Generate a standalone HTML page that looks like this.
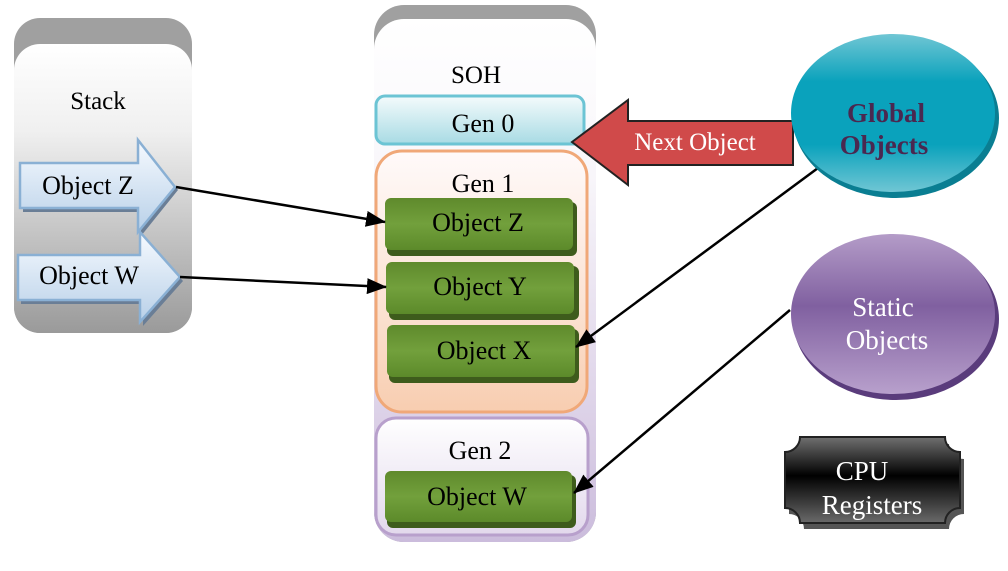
<!DOCTYPE html>
<html><head><meta charset="utf-8"><style>
html,body{margin:0;padding:0;background:#fff;}
svg, svg text{font-family:"Liberation Serif","DejaVu Serif",serif;}
</style></head><body>
<svg width="1008" height="566" viewBox="0 0 1008 566" xmlns="http://www.w3.org/2000/svg" font-family="Liberation Serif, DejaVu Serif, serif">
<defs>
<linearGradient id="stk" x1="0" y1="0" x2="0" y2="1">
<stop offset="0" stop-color="#ffffff"/><stop offset="0.3" stop-color="#f0f0f0"/><stop offset="1" stop-color="#9a9a9a"/></linearGradient>
<linearGradient id="soh" x1="0" y1="0" x2="0" y2="1">
<stop offset="0" stop-color="#ffffff"/><stop offset="0.3" stop-color="#f8f6fa"/><stop offset="0.7" stop-color="#e0d6ea"/><stop offset="1" stop-color="#cbbcdc"/></linearGradient>
<linearGradient id="g0" x1="0" y1="0" x2="0" y2="1"><stop offset="0" stop-color="#f4fbfc"/><stop offset="1" stop-color="#a8dbe4"/></linearGradient>
<linearGradient id="g1" x1="0" y1="0" x2="0" y2="1"><stop offset="0" stop-color="#fffafa"/><stop offset="0.6" stop-color="#fbe2d2"/><stop offset="1" stop-color="#f8cdb0"/></linearGradient>
<linearGradient id="g2" x1="0" y1="0" x2="0" y2="1"><stop offset="0" stop-color="#ffffff"/><stop offset="1" stop-color="#e2d8ec"/></linearGradient>
<linearGradient id="grn" x1="0" y1="0" x2="0" y2="1"><stop offset="0" stop-color="#5f8a2c"/><stop offset="0.5" stop-color="#72a03c"/><stop offset="1" stop-color="#5c8a2a"/></linearGradient>
<linearGradient id="arr" x1="0" y1="0" x2="0" y2="1"><stop offset="0" stop-color="#f6faff"/><stop offset="1" stop-color="#b8d0e8"/></linearGradient>
<linearGradient id="glob" x1="0" y1="0" x2="0" y2="1"><stop offset="0" stop-color="#70c6d4"/><stop offset="0.3" stop-color="#0aa2bc"/><stop offset="0.7" stop-color="#0aa2bc"/><stop offset="1" stop-color="#70c6d4"/></linearGradient>
<linearGradient id="stat" x1="0" y1="0" x2="0" y2="1"><stop offset="0" stop-color="#b49cc8"/><stop offset="0.45" stop-color="#8060a0"/><stop offset="1" stop-color="#b8a0cc"/></linearGradient>
<linearGradient id="cpu" x1="0" y1="0" x2="0" y2="1"><stop offset="0" stop-color="#707070"/><stop offset="0.45" stop-color="#000"/><stop offset="1" stop-color="#6a6a6a"/></linearGradient>
<marker id="ah" markerWidth="20" markerHeight="16" refX="19" refY="8" orient="auto" markerUnits="userSpaceOnUse" viewBox="0 0 20 16">
<path d="M0,0 L20,8 L0,16 z" fill="#000"/></marker>
</defs>

<rect x="14" y="18" width="178" height="315" rx="26" fill="#a0a0a0"/>
<rect x="14" y="44" width="178" height="289" rx="26" fill="url(#stk)"/>
<text x="98" y="109" font-size="25" text-anchor="middle">Stack</text>

<path d="M23,167 L141,167 L141,144 L178,190 L141,236 L141,212 L23,212 z" fill="#6a7e96"/>
<path d="M20,163 L138,163 L138,140 L175,187 L138,232 L138,208 L20,208 z" fill="url(#arr)" stroke="#8ab0d4" stroke-width="2.5"/>
<text x="88" y="194" font-size="26" text-anchor="middle">Object Z</text>
<path d="M21,259 L143,259 L143,236 L183,281 L143,326 L143,304 L21,304 z" fill="#6a7e96"/>
<path d="M18,255 L140,255 L140,232 L180,277 L140,322 L140,300 L18,300 z" fill="url(#arr)" stroke="#8ab0d4" stroke-width="2.5"/>
<text x="89" y="284" font-size="26" text-anchor="middle">Object W</text>

<rect x="374" y="5" width="222" height="537" rx="30" fill="#a0a0a0"/>
<rect x="374" y="19" width="222" height="523" rx="30" fill="url(#soh)"/>
<text x="476" y="83" font-size="25" text-anchor="middle">SOH</text>

<rect x="376" y="96" width="208" height="48" rx="9" fill="url(#g0)" stroke="#6cc4d4" stroke-width="3"/>
<text x="483" y="132" font-size="26" text-anchor="middle">Gen 0</text>

<rect x="376" y="151" width="211" height="261" rx="26" fill="url(#g1)" stroke="#f0a878" stroke-width="3"/>
<text x="483" y="192" font-size="26" text-anchor="middle">Gen 1</text>

<rect x="376" y="418" width="212" height="117" rx="20" fill="url(#g2)" stroke="#b8a0cc" stroke-width="3"/>
<text x="480" y="459" font-size="26" text-anchor="middle">Gen 2</text>

<g>
<rect x="387" y="202" width="190" height="54" rx="6" fill="#3e5c1c"/>
<rect x="385" y="198" width="188" height="52" rx="6" fill="url(#grn)"/>
<text x="478" y="231" font-size="26" text-anchor="middle">Object Z</text>
<rect x="389" y="266" width="190" height="54" rx="6" fill="#3e5c1c"/>
<rect x="386" y="262" width="188" height="52" rx="6" fill="url(#grn)"/>
<text x="480" y="295" font-size="26" text-anchor="middle">Object Y</text>
<rect x="389" y="329" width="190" height="54" rx="6" fill="#3e5c1c"/>
<rect x="387" y="325" width="188" height="52" rx="6" fill="url(#grn)"/>
<text x="484" y="359" font-size="26" text-anchor="middle">Object X</text>
<rect x="387" y="475" width="189" height="53" rx="6" fill="#3e5c1c"/>
<rect x="385" y="471" width="187" height="51" rx="6" fill="url(#grn)"/>
<text x="477" y="505" font-size="26" text-anchor="middle">Object W</text>
</g>

<g stroke="#000" stroke-width="2.5" fill="none">
<line x1="176" y1="187" x2="385" y2="222" marker-end="url(#ah)"/>
<line x1="180" y1="277" x2="386" y2="287" marker-end="url(#ah)"/>
<line x1="818" y1="168" x2="576" y2="347" marker-end="url(#ah)"/>
<line x1="790" y1="310" x2="574" y2="493" marker-end="url(#ah)"/>
</g>

<path d="M572,142 L628,100 L628,121 L793,121 L793,165 L628,165 L628,185 z" fill="#d04a4a" stroke="#222" stroke-width="2"/>
<text x="695" y="150" font-size="25" text-anchor="middle" fill="#fff">Next Object</text>

<ellipse cx="896" cy="118" rx="103" ry="80" fill="#0a7e92"/>
<ellipse cx="893" cy="113" rx="102" ry="79" fill="url(#glob)"/>
<text x="886" y="122" font-size="27" font-weight="bold" text-anchor="middle" fill="#4a2850">Global</text>
<text x="884" y="154" font-size="27" font-weight="bold" text-anchor="middle" fill="#4a2850">Objects</text>

<ellipse cx="896" cy="319" rx="103" ry="81" fill="#5a3c7c"/>
<ellipse cx="893" cy="314" rx="102" ry="80" fill="url(#stat)"/>
<text x="883" y="316" font-size="27" text-anchor="middle" fill="#fff">Static</text>
<text x="887" y="349" font-size="27" text-anchor="middle" fill="#fff">Objects</text>

<path d="M800,440 L945,440 A15,15 0 0 0 960,455 L960,510 A15,15 0 0 0 945,525 L800,525 A15,15 0 0 0 785,510 L785,455 A15,15 0 0 0 800,440 z" fill="#555" transform="translate(4,4)"/>
<path d="M800,437 L945,437 A15,15 0 0 0 960,452 L960,508 A15,15 0 0 0 945,523 L800,523 A15,15 0 0 0 785,508 L785,452 A15,15 0 0 0 800,437 z" fill="url(#cpu)" stroke="#222" stroke-width="2"/>
<text x="862" y="480" font-size="27" text-anchor="middle" fill="#fff">CPU</text>
<text x="872" y="514" font-size="27" text-anchor="middle" fill="#fff">Registers</text>
</svg>
</body></html>
